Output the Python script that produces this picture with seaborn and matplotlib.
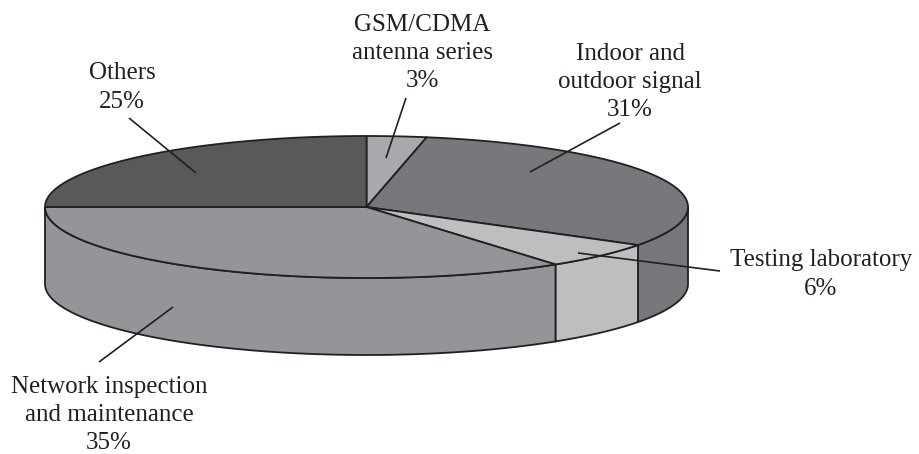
import numpy as np
import matplotlib
matplotlib.use("Agg")
import matplotlib.pyplot as plt
import seaborn as sns

categories = ["GSM/CDMA\nantenna series", "Indoor and\noutdoor signal", "Testing laboratory", "Network inspection\nand maintenance", "Others"]
shares = [3, 31, 6, 35, 25]
colours = ["#a7a9ac", "#77787b", "#bcbec0", "#939598", "#58595b"]
label_xy = [(422, 53), (630, 82), (821, 274.5), (109, 415), (122, 87.5)]
leaders = [((406, 98), (386, 158)), ((620, 123), (530, 172)), ((720, 271), (578, 253)),
           ((99, 362), (173, 307)), ((129, 118), (196, 173))]

cx, cy, rx, ry, depth = 366.5, 207, 321.5, 71, 77
INK = "#231f20"

sns.set_theme(style="white")
plt.rcParams["font.family"] = ["Liberation Serif", "DejaVu Serif"]
palette = sns.color_palette(colours)

fig, ax = plt.subplots(figsize=(9.19, 4.54), dpi=100)
ax.set_position([0, 0, 1, 1])
ax.set_xlim(0, 919)
ax.set_ylim(454, 0)
ax.axis("off")

def rim(a, b, dy=0.0):
    t = np.radians(np.linspace(a, b, 240))
    return cx + rx * np.sin(t), cy - ry * np.cos(t) + dy

edges = np.concatenate([[0], np.cumsum(shares)]) * 3.6
lw = 1.3

# side walls: only the front half of the rim (90..270 degrees clockwise from top)
for col, a, b in zip(palette, edges[:-1], edges[1:]):
    lo, hi = max(a, 90), min(b, 270)
    if lo >= hi:
        continue
    xt, yt = rim(lo, hi)
    xb, yb = rim(lo, hi, depth)
    ax.fill(np.r_[xt, xb[::-1]], np.r_[yt, yb[::-1]], facecolor=col, edgecolor=INK, lw=lw, joinstyle="round", zorder=2)

# top face
for col, a, b in zip(palette, edges[:-1], edges[1:]):
    x, y = rim(a, b)
    ax.fill(np.r_[cx, x], np.r_[cy, y], facecolor=col, edgecolor=INK, lw=lw, joinstyle="round", zorder=3)

# leader lines and labels
for (p, q) in leaders:
    ax.plot([p[0], q[0]], [p[1], q[1]], color=INK, lw=1.2, zorder=4, solid_capstyle="butt")
for name, share, (x, y) in zip(categories, shares, label_xy):
    ax.text(x, y, f"{name}\n{share}%", ha="center", va="center", ma="center",
            fontsize=18, color=INK, linespacing=1.38, zorder=5)

fig.savefig("out.png", dpi=100, facecolor="white")
